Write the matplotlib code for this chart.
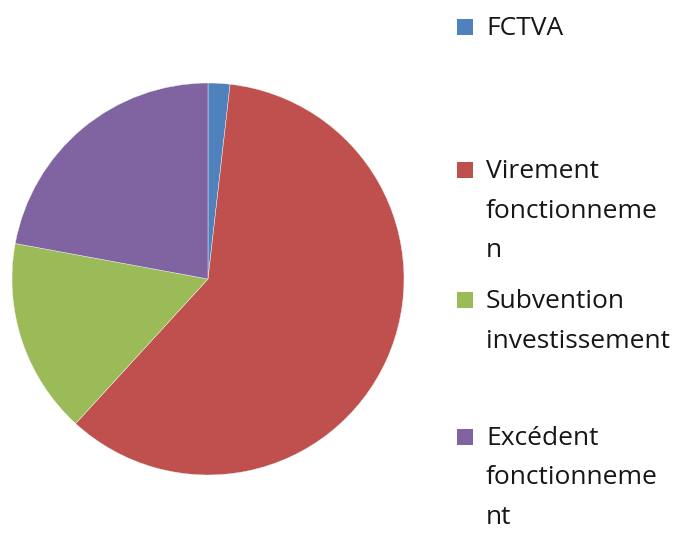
import matplotlib
matplotlib.use("Agg")
import matplotlib.pyplot as plt
from matplotlib.patches import Rectangle

# Data
categories = ["FCTVA", "Virement fonctionnemen", "Subvention investissement", "Excédent fonctionnement"]
legend_lines = [["FCTVA"],
                ["Virement", "fonctionneme", "n"],
                ["Subvention", "investissement"],
                ["Excédent", "fonctionneme", "nt"]]
values = [1.8, 60.0, 16.1, 22.1]
colors = ["#4F81BD", "#C0504D", "#9BBB59", "#8064A2"]

W, H = 692, 542
fig = plt.figure(figsize=(W / 100, H / 100), dpi=100)
fig.patch.set_facecolor("white")

# pie axes (pixel placement)
cx, cy, r = 208, 279, 196
ax = fig.add_axes([(cx - r) / W, (H - cy - r) / H, 2 * r / W, 2 * r / H])
ax.pie(values, colors=colors, startangle=90, counterclock=False,
       radius=1.0, wedgeprops=dict(linewidth=0.3, edgecolor="#f4f4f4"))
ax.set_xlim(-1, 1)
ax.set_ylim(-1, 1)
ax.set_aspect("equal")
ax.axis("off")

# legend drawn manually to mimic Excel's wrapped layout
first_baselines = [35, 178, 308, 445]
line_step = 39.5
for lines, col, yb in zip(legend_lines, colors, first_baselines):
    fig.patches.append(Rectangle(((457) / W, (H - yb) / H), 16 / W, 16 / H,
                                 transform=fig.transFigure, facecolor=col,
                                 edgecolor="none"))
    for i, ln in enumerate(lines):
        y = yb + i * line_step
        fig.text(486 / W, (H - y) / H, ln, fontsize=19, family=["Open Sans", "DejaVu Sans"],
                 color="#161616", ha="left", va="baseline")

fig.savefig("out.png", dpi=100, facecolor="white")
